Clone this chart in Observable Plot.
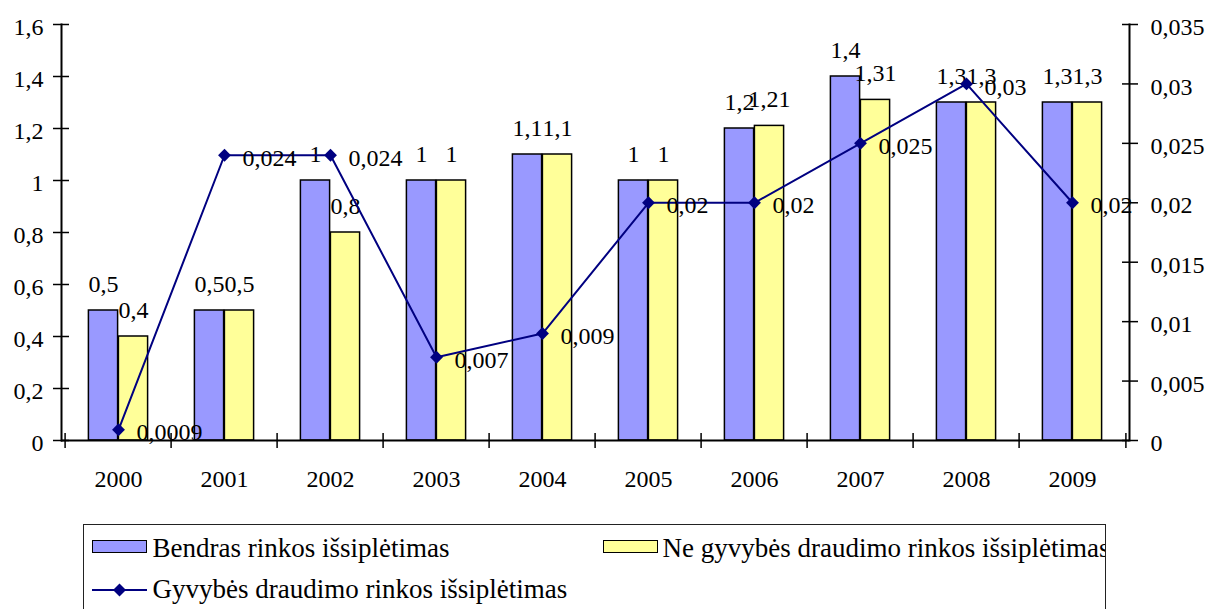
<!DOCTYPE html>
<html><head><meta charset="utf-8">
<script src="https://cdn.jsdelivr.net/npm/d3@7"></script>
<script src="https://cdn.jsdelivr.net/npm/@observablehq/plot@0.6"></script>
<style>
body{margin:0;background:#fff;font-family:"Liberation Serif","Times New Roman",serif;}
#wrap{position:relative;width:1207px;height:609px;overflow:hidden;}
#chart{position:absolute;left:0;top:0;}
#legend{position:absolute;left:83px;top:524px;width:1021px;height:110px;border:1.5px solid #222;overflow:hidden;}
.sw{position:absolute;box-sizing:border-box;border:1.5px solid #000;}
.lt{position:absolute;font-size:27px;line-height:27px;white-space:nowrap;color:#000;}
</style></head><body>
<div id="wrap"><div id="chart"></div><div id="legend"></div></div>
<script>
const years = ["2000","2001","2002","2003","2004","2005","2006","2007","2008","2009"];
const bendras = [0.5, 0.5, 1, 1, 1.1, 1, 1.2, 1.4, 1.3, 1.3];
const neGyvybes = [0.4, 0.5, 0.8, 1, 1.1, 1, 1.21, 1.31, 1.3, 1.3];
const gyvybes = [0.0009, 0.024, 0.024, 0.007, 0.009, 0.02, 0.02, 0.025, 0.03, 0.02];
const leftTicks = [0, 0.2, 0.4, 0.6, 0.8, 1, 1.2, 1.4, 1.6];
const rightTicks = [0, 0.005, 0.01, 0.015, 0.02, 0.025, 0.03, 0.035];
const seriesNames = ["Bendras rinkos išsiplėtimas", "Ne gyvybės draudimo rinkos išsiplėtimas", "Gyvybės draudimo rinkos išsiplėtimas"];
const colors = ["#9999FF", "#FFFF99", "#000080"];

const W = 1207, H = 520, mL = 61, mR = 78, mT = 24, mB = 80;
const leftMax = 1.6, rightMax = 0.035;
const k = leftMax / rightMax;
const bw = (W - mL - mR) / years.length;
const barW = 30;
const inset = bw / 2 - barW;
const fmt = v => String(v).replace(".", ",");
const rows = years.map((year, i) => ({year, bendras: bendras[i], ne: neGyvybes[i], gyv: gyvybes[i]}));
const font = '"Liberation Serif","Times New Roman",serif';

const chart = Plot.plot({
  width: W, height: H, marginLeft: mL, marginRight: mR, marginTop: mT, marginBottom: mB,
  x: {type: "band", domain: years, padding: 0, label: null},
  y: {domain: [0, leftMax], label: null},
  style: {fontFamily: font, fontSize: "24px", background: "transparent", color: "#000", overflow: "visible"},
  marks: [
    Plot.barY(rows, {x: "year", y: "bendras", fill: colors[0], stroke: "#000", strokeWidth: 1.5, insetLeft: inset, insetRight: bw / 2}),
    Plot.barY(rows, {x: "year", y: "ne", fill: colors[1], stroke: "#000", strokeWidth: 1.5, insetLeft: bw / 2, insetRight: inset}),
    Plot.ruleY([0], {stroke: "#000", strokeWidth: 2}),
    Plot.frame({anchor: "left", stroke: "#000", strokeWidth: 2}),
    Plot.frame({anchor: "right", stroke: "#000", strokeWidth: 2}),
    Plot.axisY(leftTicks, {anchor: "left", tickSize: 16, dx: 8, tickFormat: () => "", strokeWidth: 1.5, label: null}),
    Plot.axisY(leftTicks, {anchor: "left", tickSize: 0, tickPadding: 18, tickFormat: fmt, fontSize: 24, dy: 3, label: null}),
    Plot.axisY(rightTicks.map(v => v * k), {anchor: "right", tickSize: 16, dx: -8, tickFormat: () => "", strokeWidth: 1.5, label: null}),
    Plot.axisY(rightTicks.map(v => v * k), {anchor: "right", tickSize: 0, tickPadding: 21, tickFormat: v => fmt(+(v / k).toFixed(4)), fontSize: 24, dy: 3, label: null}),
    Plot.axisX(years, {anchor: "bottom", tickSize: 15, dx: -bw / 2, dy: -7, tickFormat: () => "", strokeWidth: 1.5, label: null}),
    Plot.axisX([years[years.length - 1]], {anchor: "bottom", tickSize: 15, dx: bw / 2, dy: -7, tickFormat: () => "", strokeWidth: 1.5, label: null}),
    Plot.axisX(years, {anchor: "bottom", tickSize: 0, tickPadding: 29, fontSize: 24, label: null}),
    Plot.text(rows, {x: "year", y: "bendras", text: d => fmt(d.bendras), dx: -barW / 2, dy: -19, lineAnchor: "bottom", fontSize: 24, fill: "#000"}),
    Plot.text(rows, {x: "year", y: "ne", text: d => fmt(d.ne), dx: barW / 2, dy: -19, lineAnchor: "bottom", fontSize: 24, fill: "#000"}),
    Plot.line(rows, {x: "year", y: d => d.gyv * k, stroke: colors[2], strokeWidth: 2}),
    Plot.dot(rows, {x: "year", y: d => d.gyv * k, symbol: "diamond2", r: 5.8, fill: colors[2], stroke: "none"}),
    Plot.text(rows, {x: "year", y: d => d.gyv * k, text: d => fmt(d.gyv), textAnchor: "start", dx: 18, dy: 3, fontSize: 24, fill: "#000"})
  ]
});
document.getElementById("chart").appendChild(chart);

// Legend
const lg = document.getElementById("legend");
function sw(left, top, color) {
  const d = document.createElement("div");
  d.className = "sw";
  Object.assign(d.style, {left: left + "px", top: top + "px", width: "55px", height: "13px", background: color});
  lg.appendChild(d);
}
function lt(left, top, txt) {
  const d = document.createElement("div");
  d.className = "lt";
  Object.assign(d.style, {left: left + "px", top: top + "px"});
  d.textContent = txt;
  lg.appendChild(d);
}
sw(8, 15, colors[0]);
lt(68.5, 9.5, seriesNames[0]);
sw(518.5, 15, colors[1]);
lt(578.5, 9.5, seriesNames[1]);
const ns = "http://www.w3.org/2000/svg";
const ls = document.createElementNS(ns, "svg");
ls.setAttribute("width", 56); ls.setAttribute("height", 16);
Object.assign(ls.style, {position: "absolute", left: "8px", top: "56.5px"});
const ln = document.createElementNS(ns, "line");
ln.setAttribute("x1", 0); ln.setAttribute("x2", 55); ln.setAttribute("y1", 8); ln.setAttribute("y2", 8);
ln.setAttribute("stroke", colors[2]); ln.setAttribute("stroke-width", 2);
ls.appendChild(ln);
const dm = document.createElementNS(ns, "path");
dm.setAttribute("d", "M27.5,1.5L34,8L27.5,14.5L21,8Z");
dm.setAttribute("fill", colors[2]);
ls.appendChild(dm);
lg.appendChild(ls);
lt(68.5, 51, seriesNames[2]);
</script>
</body></html>
